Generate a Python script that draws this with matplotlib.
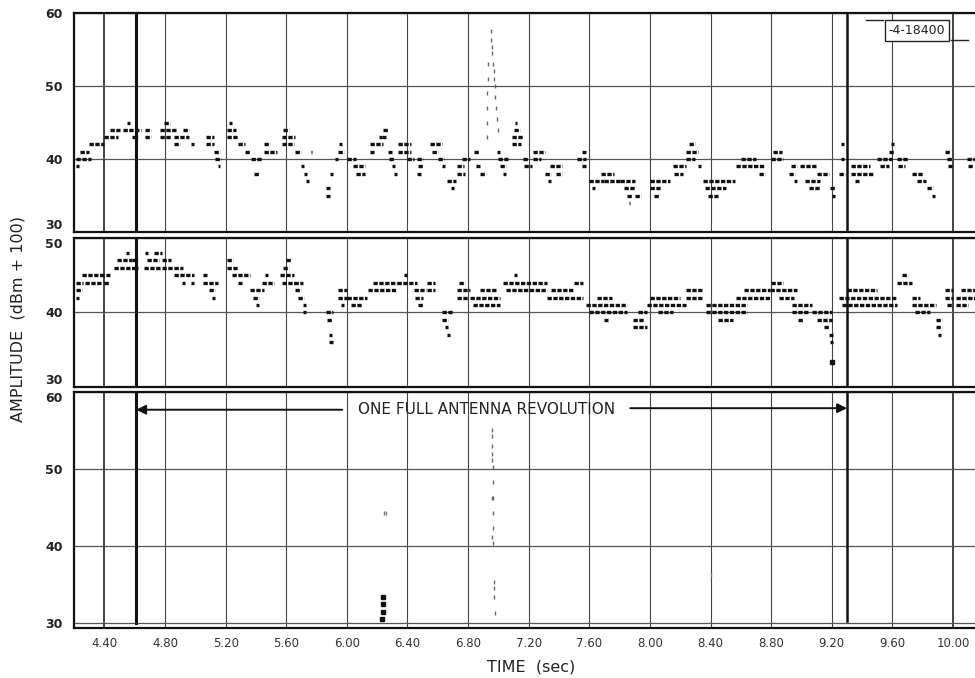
import matplotlib
matplotlib.use('Agg')
import matplotlib.pyplot as plt
from matplotlib.lines import Line2D

# time axis (sec) and tick labels
xticks = [4.40, 4.80, 5.20, 5.60, 6.00, 6.40, 6.80, 7.20, 7.60, 8.00, 8.40, 8.80, 9.20, 9.60, 10.00]
xlabels = ['4.40', '4.80', '5.20', '5.60', '6.00', '6.40', '6.80', '7.20', '7.60', '8.00',
           '8.40', '8.80', '9.20', '9.60', '10.00']
rev_start, rev_end = 4.61, 9.30

# top trace: runs of printed marks (start, end, level dB)
top_t0 = [4.21, 4.21, 4.24, 4.25, 4.30, 4.40, 4.44, 4.52, 4.55, 4.58, 4.67, 4.67, 4.77, 4.79, 4.77,
          4.86, 4.92, 4.86, 4.97, 5.07, 5.07, 5.12, 5.13, 5.15, 5.21, 5.22, 5.21, 5.28, 5.33, 5.37,
          5.39, 5.45, 5.45, 5.57, 5.58, 5.57, 5.66, 5.70, 5.72, 5.73, 5.76, 5.86, 5.86, 5.89, 5.92,
          5.94, 5.95, 6.00, 6.04, 6.06, 6.15, 6.15, 6.21, 6.24, 6.23, 6.27, 6.28, 6.30, 6.31, 6.34,
          6.34, 6.40, 6.46, 6.47, 6.46, 6.55, 6.56, 6.60, 6.63, 6.66, 6.69, 6.73, 6.73, 6.76, 6.84,
          6.85, 6.88, 6.99, 7.00, 7.01, 7.03, 7.09, 7.10, 7.11, 7.09, 7.16, 7.17, 7.23, 7.23, 7.31,
          7.33, 7.34, 7.38, 7.52, 7.55, 7.55, 7.60, 7.62, 7.68, 7.70, 7.80, 7.83, 7.85, 7.86, 7.90,
          8.00, 8.00, 8.03, 8.15, 8.16, 8.24, 8.26, 8.24, 8.32, 8.35, 8.36, 8.38, 8.57, 8.60, 8.72,
          8.81, 8.80, 8.92, 8.93, 8.95, 8.99, 9.02, 9.05, 9.10, 9.19, 9.20, 9.26, 9.26, 9.25, 9.33,
          9.33, 9.35, 9.50, 9.52, 9.58, 9.59, 9.63, 9.64, 9.73, 9.76, 9.83, 9.86, 9.96, 9.95, 9.97,
          10.09, 10.10]
top_t1 = [4.25, 4.23, 4.30, 4.31, 4.40, 4.49, 4.50, 4.64, 4.57, 4.62, 4.71, 4.71, 4.88, 4.83, 4.84,
          4.96, 4.96, 4.90, 4.99, 5.12, 5.12, 5.16, 5.17, 5.16, 5.27, 5.24, 5.28, 5.33, 5.36, 5.44,
          5.42, 5.49, 5.54, 5.66, 5.62, 5.65, 5.70, 5.72, 5.74, 5.75, 5.77, 5.89, 5.89, 5.91, 5.94,
          5.98, 5.97, 6.06, 6.12, 6.12, 6.24, 6.18, 6.23, 6.27, 6.26, 6.30, 6.31, 6.32, 6.33, 6.42,
          6.42, 6.44, 6.50, 6.50, 6.49, 6.63, 6.60, 6.64, 6.65, 6.72, 6.71, 6.78, 6.77, 6.81, 6.87,
          6.88, 6.92, 7.01, 7.06, 7.05, 7.05, 7.16, 7.14, 7.12, 7.15, 7.20, 7.22, 7.31, 7.28, 7.35,
          7.35, 7.42, 7.42, 7.58, 7.58, 7.58, 7.70, 7.64, 7.76, 7.80, 7.90, 7.90, 7.88, 7.87, 7.94,
          8.13, 8.07, 8.06, 8.24, 8.22, 8.32, 8.30, 8.30, 8.34, 8.56, 8.50, 8.45, 8.75, 8.70, 8.76,
          8.87, 8.88, 8.96, 8.97, 8.97, 9.10, 9.12, 9.12, 9.18, 9.22, 9.22, 9.28, 9.28, 9.29, 9.45,
          9.47, 9.38, 9.60, 9.58, 9.61, 9.61, 9.70, 9.68, 9.80, 9.82, 9.87, 9.88, 10.00, 9.98, 9.99,
          10.15, 10.13]
top_lv = [40, 39, 41, 40, 42, 43, 44, 44, 45, 43, 44, 43, 44, 45, 43,
          43, 44, 42, 42, 43, 42, 41, 40, 39, 44, 45, 43, 42, 41, 40,
          38, 42, 41, 43, 44, 42, 41, 39, 38, 37, 41, 35, 36, 38, 40,
          41, 42, 40, 39, 38, 42, 41, 43, 44, 43, 41, 40, 39, 38, 42,
          41, 40, 40, 39, 38, 42, 41, 40, 39, 37, 36, 38, 39, 40, 41,
          39, 38, 41, 40, 39, 38, 43, 44, 45, 42, 40, 39, 41, 40, 38,
          37, 39, 38, 40, 41, 39, 37, 36, 38, 37, 37, 36, 35, 34, 35,
          37, 36, 35, 39, 38, 41, 42, 40, 39, 37, 36, 35, 39, 40, 38,
          41, 40, 38, 39, 37, 39, 37, 36, 38, 36, 35, 42, 40, 38, 39,
          38, 37, 40, 39, 41, 42, 40, 39, 38, 37, 36, 35, 40, 41, 39,
          40, 39]

# top trace: faint spike near 6.95 s
top_spk_t = [6.925, 6.925, 6.928, 6.928, 6.930, 6.932, 6.950, 6.952, 6.955, 6.960, 6.965, 6.968,
             6.972, 6.975, 6.980, 6.985, 6.990, 6.995]
top_spk_v = [43, 45, 47, 49, 51, 53, 57.5, 56.3, 55.3, 54.5, 53, 52, 51, 50, 48.5, 47, 45.5, 44]

# middle trace runs
mid_t0 = [4.21, 4.21, 4.21, 4.25, 4.27, 4.37, 4.40, 4.46, 4.48, 4.54, 4.58, 4.66, 4.68, 4.67, 4.73,
          4.78, 4.78, 4.86, 4.86, 4.91, 4.97, 5.05, 5.05, 5.09, 5.11, 5.21, 5.21, 5.24, 5.28, 5.36,
          5.38, 5.40, 5.44, 5.46, 5.56, 5.58, 5.60, 5.57, 5.65, 5.66, 5.68, 5.71, 5.71, 5.86, 5.87,
          5.88, 5.88, 5.94, 5.94, 5.96, 6.00, 6.03, 6.14, 6.17, 6.33, 6.38, 6.44, 6.45, 6.47, 6.53,
          6.53, 6.63, 6.63, 6.65, 6.66, 6.73, 6.74, 6.73, 6.81, 6.83, 6.88, 7.03, 7.05, 7.10, 7.32,
          7.35, 7.50, 7.58, 7.60, 7.65, 7.70, 7.89, 7.89, 7.92, 7.98, 8.00, 8.05, 8.24, 8.24, 8.37,
          8.37, 8.45, 8.57, 8.62, 8.79, 8.80, 8.85, 8.94, 8.94, 8.98, 9.07, 9.10, 9.15, 9.18, 9.19,
          9.25, 9.27, 9.30, 9.63, 9.66, 9.73, 9.75, 9.73, 9.89, 9.89, 9.90, 9.95, 9.95, 9.96, 10.02,
          10.02, 10.05]
mid_t1 = [4.25, 4.26, 4.23, 4.38, 4.38, 4.44, 4.43, 4.62, 4.58, 4.56, 4.62, 4.77, 4.76, 4.69, 4.78,
          4.84, 4.86, 4.99, 4.92, 4.93, 4.99, 5.08, 5.15, 5.13, 5.13, 5.25, 5.28, 5.36, 5.31, 5.45,
          5.42, 5.42, 5.52, 5.48, 5.65, 5.62, 5.63, 5.66, 5.71, 5.70, 5.72, 5.73, 5.73, 5.91, 5.90,
          5.90, 5.91, 6.00, 6.00, 5.98, 6.13, 6.10, 6.33, 6.33, 6.46, 6.40, 6.52, 6.50, 6.50, 6.58,
          6.58, 6.70, 6.67, 6.67, 6.68, 6.81, 6.78, 6.80, 7.01, 7.01, 6.99, 7.32, 7.32, 7.12, 7.56,
          7.50, 7.56, 7.85, 7.85, 7.75, 7.72, 7.98, 7.96, 7.98, 8.24, 8.20, 8.15, 8.35, 8.35, 8.64,
          8.64, 8.55, 8.79, 8.79, 8.97, 8.88, 8.95, 9.07, 9.05, 9.01, 9.20, 9.20, 9.18, 9.21, 9.21,
          9.63, 9.63, 9.50, 9.73, 9.70, 9.89, 9.85, 9.78, 9.93, 9.93, 9.92, 10.00, 10.00, 10.00, 10.15,
          10.10, 10.15]
mid_lv = [43, 44, 42, 45, 44, 45, 44, 46, 47, 48, 47, 46, 47, 48, 48,
          47, 46, 45, 46, 44, 44, 45, 44, 43, 42, 47, 46, 45, 44, 43,
          42, 41, 44, 45, 45, 46, 47, 44, 44, 43, 42, 41, 40, 40, 39,
          37, 36, 43, 42, 41, 42, 41, 43, 44, 44, 45, 43, 42, 41, 44,
          43, 40, 39, 38, 37, 43, 44, 42, 42, 41, 43, 44, 43, 45, 42,
          43, 44, 41, 40, 42, 39, 38, 39, 40, 41, 42, 40, 43, 42, 41,
          40, 39, 42, 43, 43, 44, 42, 41, 40, 39, 40, 39, 38, 37, 36,
          42, 41, 43, 44, 45, 41, 40, 42, 39, 38, 37, 43, 42, 41, 42,
          41, 43]
mid_dot_t = [9.20]
mid_dot_v = [33.3]

# bottom trace: sparse marks only
bot_spk_t = [6.955, 6.957, 6.957, 6.960, 6.960, 6.963, 6.963, 6.955, 6.965, 6.965, 6.967, 6.955,
             6.967, 6.970, 6.972, 6.972, 6.978]
bot_spk_v = [55.1, 54.3, 53.0, 52.0, 51.2, 50.3, 48.3, 46.2, 46.2, 44.3, 42.3, 41.2, 40.4, 35.3,
             34.5, 33.4, 31.3]
bot_clu_t = [6.24, 6.24, 6.24, 6.235, 6.245, 6.255, 8.40]
bot_clu_v = [33.4, 32.5, 31.4, 30.5, 44.3, 44.3, 36.2]

fig = plt.figure(figsize=(9.75, 6.78), dpi=100, facecolor='white')
ax_top = fig.add_axes([0.076, 0.6578, 0.924, 0.3230])
ax_mid = fig.add_axes([0.076, 0.4292, 0.924, 0.2198])
ax_bot = fig.add_axes([0.076, 0.0743, 0.924, 0.3475])

panels = [(ax_top, (30, 60), [30, 40, 50, 60]),
          (ax_mid, (30, 50), [30, 40, 50]),
          (ax_bot, (29.4, 60), [30, 40, 50, 60])]

for ax, ylim, yt in panels:
    ax.set_xlim(4.20, 10.145)
    ax.set_ylim(*ylim)
    ax.set_yticks(yt)
    ax.set_yticklabels([str(v) for v in yt], fontsize=9, fontweight='bold', color='#222')
    ax.set_xticks(xticks)
    ax.tick_params(length=0)
    ax.tick_params(axis='y', pad=8)
    for x in xticks:
        lw = 1.4 if x in (4.40, 10.00) else 0.8
        ax.axvline(x, color='#444', lw=lw, zorder=1)
    for y in yt:
        ax.axhline(y, color='#555', lw=0.9, zorder=1)
    ax.spines['right'].set_visible(False)
    for s in ['left', 'top', 'bottom']:
        ax.spines[s].set_linewidth(1.6)
        ax.spines[s].set_color('#111')
    ax.set_facecolor('white')

# stacked labels where the panels meet
ax_top.get_yticklabels()[0].set_va('bottom')
ax_mid.get_yticklabels()[-1].set_va('top')
ax_mid.get_yticklabels()[0].set_va('bottom')
ax_bot.get_yticklabels()[-1].set_va('top')

for ax in (ax_top, ax_mid):
    ax.set_xticklabels([])
ax_bot.set_xticklabels(xlabels, fontsize=8.5, color='#333')
ax_bot.tick_params(axis='x', pad=7)

# revolution markers
for ax in (ax_top, ax_mid):
    ax.axvline(rev_start, color='#111', lw=2.2, zorder=2)
    ax.axvline(rev_end, color='#111', lw=1.8, zorder=2)
ax_bot.plot([rev_start, rev_start], [30, 60], color='#111', lw=2.2, zorder=2)
ax_bot.plot([rev_end, rev_end], [30.2, 60], color='#111', lw=1.8, zorder=2)

dash = (0, (1.3, 0.45))
ax_top.hlines(top_lv, top_t0, top_t1, colors='#111', linewidth=2.4, linestyles=dash, zorder=3)
ax_top.plot(top_spk_t, top_spk_v, ls='none', marker='|', ms=3, mew=1.0, color='#666', zorder=3)
ax_mid.hlines(mid_lv, mid_t0, mid_t1, colors='#111', linewidth=2.4, linestyles=dash, zorder=3)
ax_mid.plot(mid_dot_t, mid_dot_v, ls='none', marker='s', ms=2.5, color='#111', zorder=3)
ax_bot.plot(bot_spk_t, bot_spk_v, ls='none', marker='|', ms=3, mew=1.0, color='#666', zorder=3)
ax_bot.plot(bot_clu_t[:4], bot_clu_v[:4], ls='none', marker='s', ms=2.8, color='#111', zorder=3)
ax_bot.plot(bot_clu_t[4:], bot_clu_v[4:], ls='none', marker='|', ms=3, mew=1.0, color='#777', zorder=3)

# antenna revolution annotation
ax_bot.text(6.925, 57.7, 'ONE FULL ANTENNA REVOLUTION', ha='center', va='center',
            fontsize=11, color='#222')
arrow = dict(arrowstyle='-|>', color='#111', lw=1.4, mutation_scale=14, shrinkA=0, shrinkB=0)
ax_bot.annotate('', xy=(rev_start, 57.7), xytext=(5.97, 57.7), arrowprops=arrow)
ax_bot.annotate('', xy=(rev_end, 57.9), xytext=(7.87, 57.9), arrowprops=arrow)

# figure number box
fig.text(0.9405, 0.955, '-4-18400', ha='center', va='center', fontsize=9, color='#222',
         bbox=dict(boxstyle='square,pad=0.3', fc='white', ec='#222', lw=1.0))
fig.add_artist(Line2D([0.888, 0.906], [0.971, 0.971], color='#222', lw=1.0))
fig.add_artist(Line2D([0.975, 0.993], [0.941, 0.941], color='#222', lw=1.0))

fig.text(0.018, 0.53, 'AMPLITUDE  (dBm + 100)', rotation=90, ha='center', va='center',
         fontsize=11.5, color='#222')
fig.text(0.545, 0.016, 'TIME  (sec)', ha='center', va='center', fontsize=11.5, color='#222')

fig.savefig('out.png', dpi=100, facecolor='white')
